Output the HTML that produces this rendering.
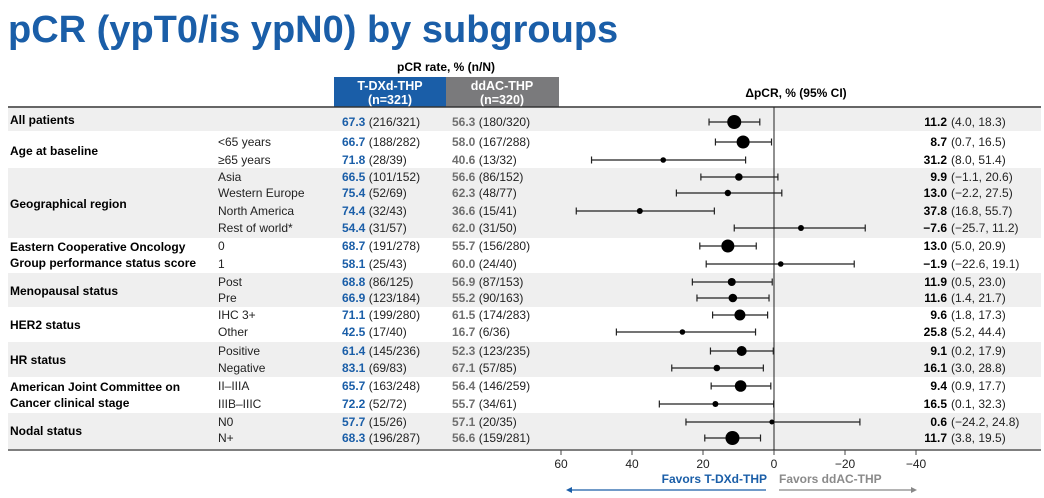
<!DOCTYPE html>
<html><head><meta charset="utf-8"><style>
body{margin:0;background:#fff;width:1044px;height:498px;overflow:hidden}
svg{display:block;font-family:"Liberation Sans",Arial,sans-serif}
.b{font-weight:bold}
</style></head><body>
<svg width="1044" height="498" viewBox="0 0 1044 498">
<text x="8" y="42" font-size="38" font-weight="bold" fill="#1a5ea8">pCR (ypT0/is ypN0) by subgroups</text>
<text x="446" y="71" font-size="12" font-weight="bold" text-anchor="middle" fill="#000">pCR rate, % (n/N)</text>
<rect x="334" y="77" width="112" height="30" fill="#1a5ea8"/>
<rect x="446" y="77" width="113" height="30" fill="#7a7a7c"/>
<text x="390" y="90" font-size="12.5" class="b" fill="#fff" text-anchor="middle">T-DXd-THP</text>
<text x="390" y="104" font-size="12.5" class="b" fill="#fff" text-anchor="middle">(n=321)</text>
<text x="502" y="90" font-size="12.5" class="b" fill="#fff" text-anchor="middle">ddAC-THP</text>
<text x="502" y="104" font-size="12.5" class="b" fill="#fff" text-anchor="middle">(n=320)</text>
<text x="796" y="97" font-size="12" class="b" text-anchor="middle">ΔpCR, % (95% CI)</text>
<g fill="#efefef">
<rect x="8" y="108" width="1033" height="23"/>
<rect x="8" y="168" width="1033" height="70"/>
<rect x="8" y="273" width="1033" height="34"/>
<rect x="8" y="342" width="1033" height="35"/>
<rect x="8" y="413" width="1033" height="36"/>
</g>
<line x1="8" y1="107" x2="1041" y2="107" stroke="#333" stroke-width="1.5"/>
<line x1="8" y1="450" x2="1041" y2="450" stroke="#555" stroke-width="1.5"/>
<line x1="774" y1="107" x2="774" y2="450" stroke="#222" stroke-width="1"/>
<g font-size="12" class="b" fill="#000">
<text x="10" y="124">All patients</text>
<text x="10" y="155">Age at baseline</text>
<text x="10" y="208">Geographical region</text>
<text x="10" y="251">Eastern Cooperative Oncology</text>
<text x="10" y="267">Group performance status score</text>
<text x="10" y="295">Menopausal status</text>
<text x="10" y="329">HER2 status</text>
<text x="10" y="364">HR status</text>
<text x="10" y="391">American Joint Committee on</text>
<text x="10" y="407">Cancer clinical stage</text>
<text x="10" y="435">Nodal status</text>
</g>
<g font-size="12" fill="#222" id="rows"></g>
<g id="plot"></g>
<g stroke="#444">
<line x1="561" y1="450" x2="561" y2="455"/><line x1="632" y1="450" x2="632" y2="455"/><line x1="703" y1="450" x2="703" y2="455"/><line x1="774" y1="450" x2="774" y2="455"/><line x1="845" y1="450" x2="845" y2="455"/><line x1="916" y1="450" x2="916" y2="455"/>
</g>
<g font-size="12" fill="#222" text-anchor="middle">
<text x="561" y="468">60</text><text x="632" y="468">40</text><text x="703" y="468">20</text><text x="774" y="468">0</text><text x="845" y="468">−20</text><text x="916" y="468">−40</text>
</g>
<text x="767" y="483" font-size="12" class="b" fill="#1a5ea8" text-anchor="end">Favors T-DXd-THP</text>
<text x="779" y="483" font-size="12" class="b" fill="#8a8a8a">Favors ddAC-THP</text>
<line x1="569" y1="490" x2="766" y2="490" stroke="#1a5ea8" stroke-width="1.2"/>
<polygon points="566,490 572,487 572,493" fill="#1a5ea8"/>
<line x1="779" y1="490" x2="914" y2="490" stroke="#888" stroke-width="1.2"/>
<polygon points="917,490 911,487 911,493" fill="#888"/>
<script>
var d=[
["","67.3","(216/321)","56.3","(180/320)","11.2","(4.0, 18.3)",11.2,4.0,18.3,7],
["<65 years","66.7","(188/282)","58.0","(167/288)","8.7","(0.7, 16.5)",8.7,0.7,16.5,6.5],
["≥65 years","71.8","(28/39)","40.6","(13/32)","31.2","(8.0, 51.4)",31.2,8.0,51.4,2.8],
["Asia","66.5","(101/152)","56.6","(86/152)","9.9","(−1.1, 20.6)",9.9,-1.1,20.6,3.8],
["Western Europe","75.4","(52/69)","62.3","(48/77)","13.0","(−2.2, 27.5)",13.0,-2.2,27.5,3.2],
["North America","74.4","(32/43)","36.6","(15/41)","37.8","(16.8, 55.7)",37.8,16.8,55.7,3],
["Rest of world*","54.4","(31/57)","62.0","(31/50)","−7.6","(−25.7, 11.2)",-7.6,-25.7,11.2,3],
["0","68.7","(191/278)","55.7","(156/280)","13.0","(5.0, 20.9)",13.0,5.0,20.9,6.5],
["1","58.1","(25/43)","60.0","(24/40)","−1.9","(−22.6, 19.1)",-1.9,-22.6,19.1,2.8],
["Post","68.8","(86/125)","56.9","(87/153)","11.9","(0.5, 23.0)",11.9,0.5,23.0,4],
["Pre","66.9","(123/184)","55.2","(90/163)","11.6","(1.4, 21.7)",11.6,1.4,21.7,4.3],
["IHC 3+","71.1","(199/280)","61.5","(174/283)","9.6","(1.8, 17.3)",9.6,1.8,17.3,5.5],
["Other","42.5","(17/40)","16.7","(6/36)","25.8","(5.2, 44.4)",25.8,5.2,44.4,2.8],
["Positive","61.4","(145/236)","52.3","(123/235)","9.1","(0.2, 17.9)",9.1,0.2,17.9,5],
["Negative","83.1","(69/83)","67.1","(57/85)","16.1","(3.0, 28.8)",16.1,3.0,28.8,3.3],
["II–IIIA","65.7","(163/248)","56.4","(146/259)","9.4","(0.9, 17.7)",9.4,0.9,17.7,5.8],
["IIIB–IIIC","72.2","(52/72)","55.7","(34/61)","16.5","(0.1, 32.3)",16.5,0.1,32.3,3],
["N0","57.7","(15/26)","57.1","(20/35)","0.6","(−24.2, 24.8)",0.6,-24.2,24.8,2.5],
["N+","68.3","(196/287)","56.6","(159/281)","11.7","(3.8, 19.5)",11.7,3.8,19.5,7]
];
var ys=[122,142,160,177,193,211,228,246,264,282,298,315,332,351,368,386,404,422,438];
var NS="http://www.w3.org/2000/svg",R=document.getElementById("rows"),P=document.getElementById("plot");
function t(x,y,parts,a){var e=document.createElementNS(NS,"text");e.setAttribute("x",x);e.setAttribute("y",y);for(var k in a)e.setAttribute(k,a[k]);
 parts.forEach(function(p){var s=document.createElementNS(NS,"tspan");s.textContent=p[0];if(p[1]){s.setAttribute("font-weight","bold");s.setAttribute("fill",p[1]);}e.appendChild(s);});
 R.appendChild(e);}
function X(v){return 774-v*3.55;}
function l(x1,y1,x2,y2){var e=document.createElementNS(NS,"line");e.setAttribute("x1",x1);e.setAttribute("y1",y1);e.setAttribute("x2",x2);e.setAttribute("y2",y2);e.setAttribute("stroke","#222");e.setAttribute("stroke-width","1.2");P.appendChild(e);}
d.forEach(function(r,i){var y=ys[i]+4;
 if(r[0])t(218,y,[[r[0]]],{});
 t(342,y,[[r[1],"#1a5ea8"],[" "+r[2]]],{});
 t(452,y,[[r[3],"#6f6f6f"],[" "+r[4]]],{});
 t(947,y,[[r[5],"#000"]],{"text-anchor":"end"});
 t(951,y,[[r[6]]],{});
 var yy=ys[i];l(X(r[9]),yy,X(r[8]),yy);l(X(r[9]),yy-3.5,X(r[9]),yy+3.5);l(X(r[8]),yy-3.5,X(r[8]),yy+3.5);
 var c=document.createElementNS(NS,"circle");c.setAttribute("cx",X(r[7]));c.setAttribute("cy",yy);c.setAttribute("r",r[10]);P.appendChild(c);
});
</script>
</svg>
</body></html>
